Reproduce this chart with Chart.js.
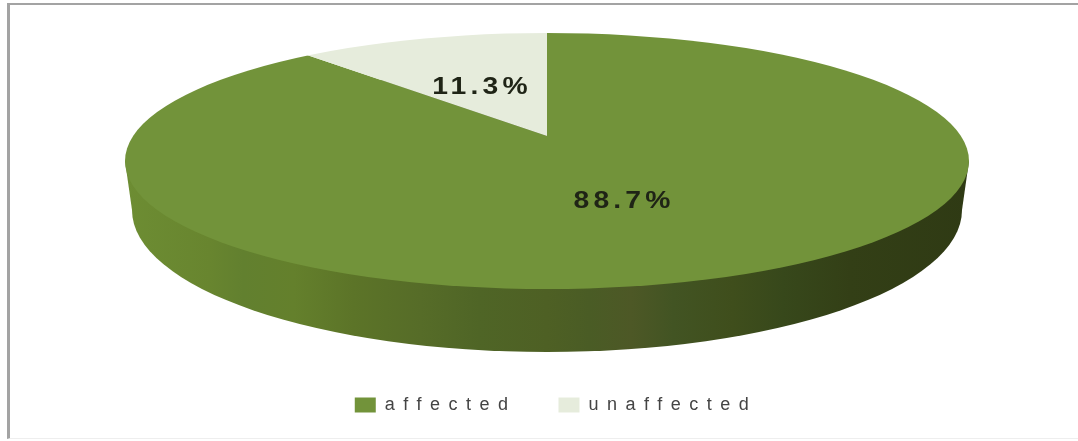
<!DOCTYPE html>
<html>
<head>
<meta charset="utf-8">
<style>
  html, body { margin: 0; padding: 0; background: #fff; overflow: hidden; }
  #wrap { position: relative; width: 1078px; height: 441px; }
  #chart { position: absolute; left: 0; top: 0; filter: blur(0.5px); }
  #frame {
    position: absolute; left: 7px; top: 3px; right: 0; bottom: 2px;
    border-left: 3px solid #a3a3a3; border-top: 2px solid #a3a3a3; border-bottom: 1px solid #eeeeee;
    pointer-events: none;
  }
</style>
<script src="https://cdn.jsdelivr.net/npm/chart.js@4"></script>
</head>
<body>
<div id="wrap">
  <canvas id="chart" width="1078" height="441"></canvas>
  <div id="frame"></div>
</div>
<script>
const categories = ["affected", "unaffected"];
const shares = [88.7, 11.3];
const sliceColors = ["#72933a", "#e6ecdc"];

// 3D disc seen in perspective: top face, lower rim, point where the slices meet
const topFace = { x: 547, y: 161, rx: 422, ry: 128 };
const rimFoot = { x: 547, y: 210, rx: 415, ry: 142 };
const apex = { x: 547, y: 136 };
const scaleX = 700, scaleY = 203;

const rimStops = [
  [0, "#6d8d33"], [0.1, "#68852f"], [0.14, "#62802f"], [0.2, "#64802c"], [0.27, "#5c7428"],
  [0.35, "#566c28"], [0.42, "#4f6526"], [0.5, "#4e6024"], [0.55, "#4a5c25"], [0.6, "#4d5826"],
  [0.65, "#425423"], [0.72, "#3f4e1c"], [0.78, "#37481b"], [0.86, "#333f16"], [1, "#2f3a14"]
];

const labelSpots = [[624, 201], [482, 87]];

function ellipsePath(ctx, e) {
  ctx.beginPath();
  ctx.ellipse(e.x, e.y, e.rx, e.ry, 0, 0, Math.PI * 2);
}

const disc3d = {
  id: "disc3d",
  beforeDatasetsDraw(chart) {
    const ctx = chart.ctx;
    const arc = chart.getDatasetMeta(0).data[0];
    const { outerRadius: r } = arc.getProps(["outerRadius"], true);

    // rim
    ctx.save();
    const grad = ctx.createLinearGradient(topFace.x - topFace.rx, 0, topFace.x + topFace.rx, 0);
    rimStops.forEach(s => grad.addColorStop(s[0], s[1]));
    ctx.fillStyle = grad;
    ellipsePath(ctx, rimFoot);
    ctx.fill();
    ctx.beginPath();
    ctx.moveTo(topFace.x - topFace.rx, topFace.y);
    ctx.lineTo(topFace.x + topFace.rx, topFace.y);
    ctx.lineTo(rimFoot.x + rimFoot.rx, rimFoot.y);
    ctx.lineTo(rimFoot.x - rimFoot.rx, rimFoot.y);
    ctx.closePath();
    ctx.fill();
    ctx.restore();

    // top face: the pie, stretched around the apex and cut to the ellipse
    ctx.save();
    ellipsePath(ctx, topFace);
    ctx.clip();
    ctx.translate(apex.x, apex.y);
    ctx.scale(scaleX / r, scaleY / r);
    ctx.translate(-arc.x, -arc.y);
  },
  afterDatasetsDraw(chart) {
    const ctx = chart.ctx;
    ctx.restore();

    // labels are stretched sideways like the rest of the picture
    shares.forEach((v, i) => {
      ctx.save();
      ctx.font = "bold 24px 'Liberation Sans', Arial, sans-serif";
      ctx.letterSpacing = "3.5px";
      ctx.fillStyle = "#1f2416";
      ctx.textAlign = "center";
      ctx.textBaseline = "middle";
      ctx.translate(labelSpots[i][0], labelSpots[i][1]);
      ctx.scale(1.18, 1);
      ctx.fillText(v.toFixed(1) + "%", 0, 0);
      ctx.restore();
    });
  }
};

const legendSpacing = {
  id: "legendSpacing",
  beforeUpdate(chart) { chart.ctx.letterSpacing = "8.5px"; },
  beforeDraw(chart) { chart.ctx.letterSpacing = "8.5px"; }
};

new Chart(document.getElementById("chart"), {
  type: "pie",
  data: {
    labels: categories,
    datasets: [{
      data: shares,
      backgroundColor: sliceColors,
      borderWidth: 0,
      clip: false
    }]
  },
  options: {
    responsive: false,
    animation: false,
    layout: { padding: { bottom: 17, left: 34 } },
    plugins: {
      tooltip: { enabled: false },
      legend: {
        position: "bottom",
        labels: {
          boxWidth: 21,
          boxHeight: 15,
          padding: 42,
          color: "#444444",
          font: { size: 18, family: "'Liberation Sans', Arial, sans-serif" }
        }
      }
    }
  },
  plugins: [legendSpacing, disc3d]
});
</script>
</body>
</html>
